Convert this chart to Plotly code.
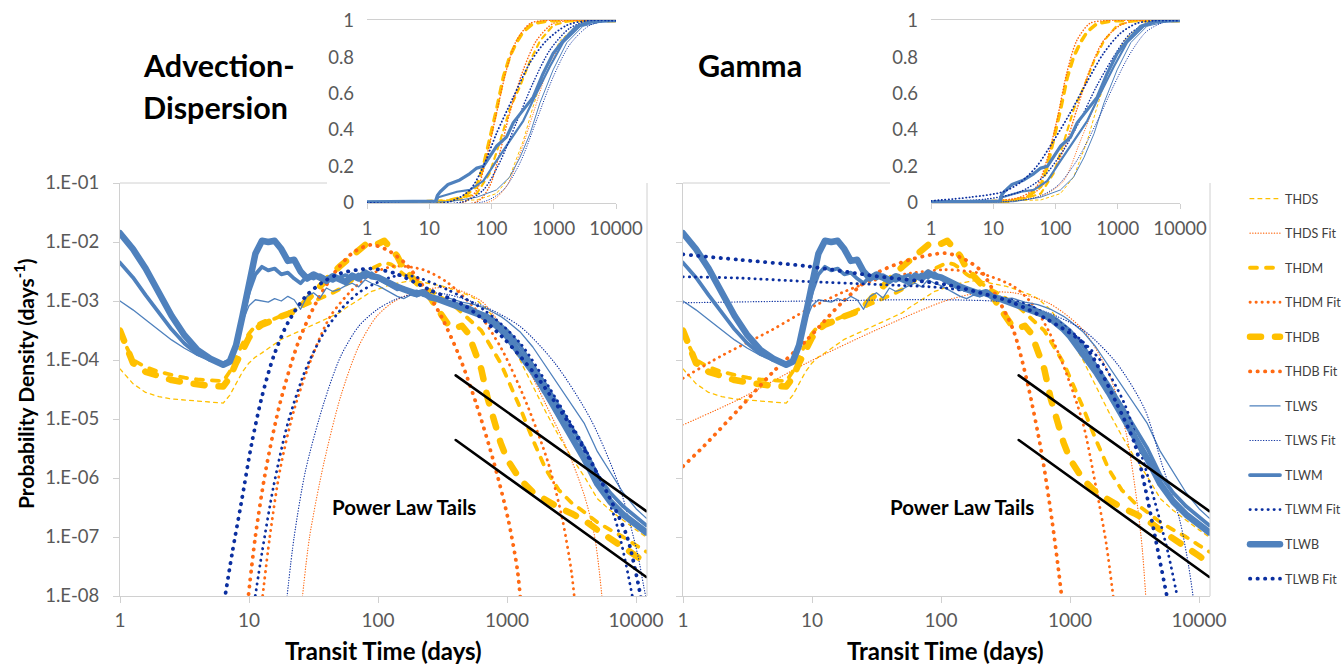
import plotly.graph_objects as go

W, H = 1341, 665

# ---------------- observed transit-time densities (shared by both panels) ----------------
DAYS = [1, 1.26, 1.58, 2.0, 2.51, 3.16, 3.98, 5.01, 6.31, 7.08, 7.94, 8.91, 10, 11.2, 12.6, 14.1,
        15.8, 17.8, 20, 22.4, 25.1, 28.2, 31.6, 35.5, 39.8, 44.7, 50.1, 56.2, 63.1, 70.8, 79.4,
        89.1, 100, 112, 126, 141, 158, 178, 200, 224, 251, 282, 316, 355, 398, 447, 501, 562,
        631, 708, 794, 891, 1000, 1259, 1585, 1995, 2512, 3162, 3981, 5012, 6310, 7943, 10000, 12000]

THDS = [7.08e-5, 3.98e-5, 2.82e-5, 2.40e-5, 2.19e-5, 2.09e-5, 2.0e-5, 1.91e-5, 1.86e-5,
        2.51e-5, 3.98e-5, 6.31e-5, 8.91e-5, 1.12e-4, 1.32e-4, 1.58e-4, 1.91e-4, 2.24e-4, 2.51e-4,
        2.82e-4, 3.16e-4, 3.55e-4, 3.98e-4, 4.47e-4, 5.01e-4, 5.62e-4, 6.31e-4, 7.59e-4, 8.91e-4,
        1.05e-3, 1.26e-3, 1.45e-3, 1.58e-3, 1.74e-3, 1.91e-3, 2.0e-3, 2.09e-3, 2.19e-3, 2.19e-3,
        2.09e-3, 2.0e-3, 1.91e-3, 1.78e-3, 1.66e-3, 1.51e-3, 1.38e-3, 1.26e-3, 1.10e-3, 8.91e-4,
        7.08e-4, 5.01e-4, 3.55e-4, 2.40e-4,
        1.0e-4, 3.55e-5, 1.32e-5, 5.25e-6, 2.24e-6, 1.05e-6, 4.47e-7, 2.82e-7, 1.91e-7, 1.32e-7, 1.0e-7]

THDM = [2.82e-4, 1.0e-4, 7.59e-5, 6.31e-5, 5.62e-5, 5.01e-5, 4.68e-5, 4.47e-5, 4.37e-5,
        6.31e-5, 1.12e-4, 1.91e-4, 2.82e-4, 3.80e-4, 4.37e-4, 4.79e-4, 5.01e-4, 5.62e-4, 6.31e-4,
        6.92e-4, 7.94e-4, 8.91e-4, 1.0e-3, 1.10e-3, 1.20e-3, 1.38e-3, 1.58e-3, 1.91e-3, 2.24e-3,
        2.63e-3, 3.16e-3, 3.55e-3, 3.98e-3, 4.47e-3, 4.17e-3, 3.55e-3, 2.82e-3, 2.40e-3, 2.0e-3,
        1.74e-3, 1.51e-3, 1.32e-3, 1.12e-3, 9.55e-4, 7.94e-4, 6.31e-4, 5.01e-4, 3.98e-4, 3.16e-4,
        2.09e-4, 1.41e-4, 8.91e-5, 5.01e-5,
        1.58e-5, 4.47e-6, 1.41e-6, 6.31e-7, 3.80e-7, 2.63e-7, 1.78e-7, 1.32e-7, 1.0e-7, 7.24e-8, 5.62e-8]

THDB = [3.16e-4, 8.91e-5, 6.31e-5, 5.25e-5, 4.57e-5, 4.17e-5, 3.80e-5, 3.63e-5, 3.55e-5,
        5.01e-5, 8.91e-5, 1.51e-4, 2.40e-4, 3.31e-4, 3.98e-4, 4.37e-4, 5.01e-4, 5.50e-4, 6.03e-4,
        6.61e-4, 7.94e-4, 1.05e-3, 1.41e-3, 1.78e-3, 2.40e-3, 3.02e-3, 3.80e-3, 4.79e-3, 6.03e-3,
        7.59e-3, 8.91e-3, 1.0e-2, 9.33e-3, 1.05e-2, 7.94e-3, 5.75e-3, 3.55e-3, 2.63e-3, 2.09e-3,
        1.58e-3, 1.20e-3, 7.94e-4, 5.25e-4, 3.80e-4, 3.47e-4, 3.80e-4, 2.82e-4, 1.41e-4, 7.08e-5,
        2.24e-5, 8.91e-6, 3.98e-6, 2.09e-6,
        9.55e-7, 5.75e-7, 4.17e-7, 3.16e-7, 2.51e-7, 1.91e-7, 1.32e-7, 9.55e-8, 6.92e-8, 4.79e-8, 3.55e-8]

TLWS = [1.0e-3, 7.08e-4, 4.79e-4, 3.16e-4, 2.19e-4, 1.58e-4, 1.20e-4, 1.0e-4, 8.91e-5,
        1.0e-4, 1.91e-4, 4.47e-4, 8.32e-4, 1.05e-3, 1.0e-3, 9.55e-4, 1.10e-3, 1.0e-3, 1.20e-3,
        1.05e-3, 7.24e-4, 1.20e-3, 1.38e-3, 1.12e-3, 1.66e-3, 1.45e-3, 1.58e-3, 1.82e-3, 2.0e-3,
        1.74e-3, 2.29e-3, 2.0e-3, 1.82e-3, 1.58e-3, 1.38e-3, 1.20e-3, 1.10e-3, 1.26e-3, 1.17e-3,
        1.32e-3, 1.20e-3, 1.15e-3, 1.10e-3, 1.12e-3, 1.02e-3, 9.55e-4, 9.12e-4, 8.71e-4, 7.94e-4,
        7.24e-4, 6.31e-4, 5.50e-4, 4.57e-4,
        3.02e-4, 1.66e-4, 7.94e-5, 3.80e-5, 1.82e-5, 8.32e-6, 2.82e-6, 1.26e-6, 5.62e-7, 3.02e-7, 2.09e-7]

TLWM = [4.47e-3, 2.51e-3, 1.26e-3, 6.31e-4, 3.31e-4, 1.91e-4, 1.26e-4, 1.0e-4, 8.71e-5,
        1.0e-4, 1.91e-4, 5.62e-4, 1.41e-3, 2.82e-3, 3.80e-3, 3.31e-3, 3.55e-3, 2.82e-3, 3.02e-3,
        2.40e-3, 2.0e-3, 2.63e-3, 2.40e-3, 2.75e-3, 2.40e-3, 2.19e-3, 2.51e-3, 2.75e-3, 2.40e-3,
        2.82e-3, 2.51e-3, 2.95e-3, 2.40e-3, 2.09e-3, 1.82e-3, 1.58e-3, 1.66e-3, 1.38e-3, 1.45e-3,
        1.26e-3, 1.20e-3, 1.12e-3, 1.05e-3, 1.0e-3, 9.12e-4, 8.32e-4, 7.94e-4, 6.92e-4, 6.31e-4,
        5.62e-4, 4.79e-4, 3.98e-4, 3.16e-4,
        1.74e-4, 8.32e-5, 3.80e-5, 1.66e-5, 7.24e-6, 3.16e-6, 1.12e-6, 5.62e-7, 3.31e-7, 2.19e-7, 1.58e-7]

TLWB = [1.41e-2, 7.59e-3, 3.55e-3, 1.41e-3, 5.62e-4, 2.63e-4, 1.48e-4, 1.05e-4, 8.32e-5,
        9.33e-5, 1.78e-4, 5.62e-4, 2.24e-3, 6.31e-3, 1.05e-2, 1.0e-2, 1.05e-2, 7.59e-3, 4.79e-3,
        5.01e-3, 3.16e-3, 2.40e-3, 2.82e-3, 2.51e-3, 2.19e-3, 2.63e-3, 2.34e-3, 2.09e-3, 2.69e-3,
        2.40e-3, 3.02e-3, 2.63e-3, 2.51e-3, 2.19e-3, 1.91e-3, 1.74e-3, 1.58e-3, 1.41e-3, 1.32e-3,
        1.41e-3, 1.17e-3, 1.10e-3, 1.0e-3, 9.55e-4, 8.71e-4, 7.94e-4, 7.24e-4, 6.61e-4, 5.75e-4,
        5.01e-4, 4.17e-4, 3.31e-4, 2.51e-4,
        1.32e-4, 6.31e-5, 2.82e-5, 1.20e-5, 5.01e-6, 2.09e-6, 7.94e-7, 3.98e-7, 2.40e-7, 1.58e-7, 1.20e-7]

# ---------------- Advection-Dispersion fits ----------------
THDS_FIT_AD_X = [25.7, 29.5, 38.0, 51.3, 70.8, 97.7, 135, 224, 372, 631, 794, 1000, 1259, 1585, 1995, 2512, 3162, 3981, 4786, 5495]
THDS_FIT_AD_Y = [7.9e-9, 1.02e-7, 1.78e-6, 2.40e-5, 1.70e-4, 5.50e-4, 1.0e-3, 1.55e-3, 1.66e-3, 1.0e-3, 5.62e-4, 2.82e-4, 1.26e-4, 5.01e-5, 1.78e-5, 6.31e-6, 2.0e-6, 5.01e-7, 1.0e-7, 7.9e-9]
THDM_FIT_AD_X = [12.6, 14.5, 17.4, 22.4, 30.9, 42.7, 63.1, 91.2, 135, 224, 347, 575, 912, 1413, 2089, 2692, 3162, 3388]
THDM_FIT_AD_Y = [7.9e-9, 1.02e-7, 1.38e-6, 1.45e-5, 1.15e-4, 5.50e-4, 1.55e-3, 2.95e-3, 3.89e-3, 3.39e-3, 2.04e-3, 7.08e-4, 1.51e-4, 1.86e-5, 1.78e-6, 1.95e-7, 2.51e-8, 6.3e-9]
THDB_FIT_AD_X = [9.77, 11.2, 13.5, 17.4, 24.0, 33.1, 45.7, 63.1, 87.1, 117, 162, 224, 309, 427, 575, 794, 1023, 1202, 1288]
THDB_FIT_AD_Y = [7.9e-9, 1.02e-7, 1.38e-6, 1.86e-5, 1.95e-4, 9.33e-4, 2.95e-3, 6.46e-3, 8.91e-3, 7.41e-3, 4.37e-3, 1.78e-3, 5.50e-4, 1.15e-4, 1.86e-5, 1.78e-6, 1.95e-7, 2.82e-8, 6.3e-9]
TLWS_FIT_AD_X = [19.5, 22.4, 27.5, 38.0, 51.3, 70.8, 97.7, 135, 209, 347, 661, 1259, 2344, 4467, 7413, 10233, 11482, 12589]
TLWS_FIT_AD_Y = [7.9e-9, 1.02e-7, 1.38e-6, 1.86e-5, 1.15e-4, 3.72e-4, 7.08e-4, 1.05e-3, 1.38e-3, 1.29e-3, 8.13e-4, 3.72e-4, 8.91e-5, 9.77e-6, 7.24e-7, 5.37e-8, 1.45e-8, 5.0e-9]
TLWM_FIT_AD_X = [11.0, 12.6, 15.5, 20.0, 27.5, 38.0, 51.3, 70.8, 97.7, 135, 186, 347, 661, 1259, 2344, 4467, 6918, 9550]
TLWM_FIT_AD_Y = [7.9e-9, 5.37e-8, 7.24e-7, 8.51e-6, 6.92e-5, 2.88e-4, 7.08e-4, 1.38e-3, 2.04e-3, 2.63e-3, 2.63e-3, 1.55e-3, 7.08e-4, 1.95e-4, 2.40e-5, 2.04e-6, 1.95e-7, 7.9e-9]
TLWB_FIT_AD_X = [6.31, 7.41, 8.71, 10.5, 12.6, 15.5, 20.0, 27.5, 38.0, 51.3, 70.8, 87.1, 135, 251, 479, 912, 1698, 3236, 6166, 8511, 10965]
TLWB_FIT_AD_Y = [6.3e-9, 5.37e-8, 3.80e-7, 3.89e-6, 2.40e-5, 1.15e-4, 4.27e-4, 1.20e-3, 2.14e-3, 2.95e-3, 3.39e-3, 3.55e-3, 2.95e-3, 1.55e-3, 8.13e-4, 2.51e-4, 5.25e-5, 6.61e-6, 4.90e-7, 1.02e-7, 8.9e-9]

# ---------------- Gamma fits ----------------
THDS_FIT_G_X = [1, 2.69, 9.12, 31.6, 107, 200, 363, 676, 1259, 2042, 2754, 3311, 3631, 3890]
THDS_FIT_G_Y = [7.94e-6, 2.14e-5, 8.91e-5, 3.24e-4, 1.0e-3, 1.38e-3, 1.38e-3, 9.33e-4, 3.24e-4, 5.25e-5, 5.13e-6, 3.80e-7, 6.31e-8, 7.9e-9]
THDM_FIT_G_X = [1, 1.95, 4.90, 9.12, 17.0, 31.6, 57.5, 107, 200, 363, 501, 676, 912, 1259, 1585, 1905, 2188]
THDM_FIT_G_Y = [4.90e-5, 1.15e-4, 3.24e-4, 7.08e-4, 1.38e-3, 2.29e-3, 2.95e-3, 3.39e-3, 2.95e-3, 1.78e-3, 9.33e-4, 3.24e-4, 6.92e-5, 8.51e-6, 7.24e-7, 7.94e-8, 7.9e-9]
THDB_FIT_G_X = [1, 1.45, 2.69, 4.90, 9.12, 17.0, 31.6, 57.5, 107, 145, 200, 269, 363, 468, 603, 724, 813, 871]
THDB_FIT_G_Y = [1.58e-6, 3.47e-6, 1.45e-5, 6.03e-5, 2.19e-4, 9.33e-4, 2.95e-3, 5.01e-3, 6.46e-3, 5.37e-3, 3.39e-3, 1.20e-3, 3.24e-4, 4.07e-5, 2.63e-6, 1.95e-7, 2.82e-8, 7.9e-9]
TLWS_FIT_G_X = [1, 9.12, 107, 363, 676, 1259, 2291, 3802, 5129, 7079, 8318, 9120]
TLWS_FIT_G_Y = [9.33e-4, 1.0e-3, 1.05e-3, 9.33e-4, 6.31e-4, 3.24e-4, 8.91e-5, 1.45e-5, 1.78e-6, 1.95e-7, 3.16e-8, 7.9e-9]
TLWM_FIT_G_X = [1, 2.69, 9.12, 31.6, 107, 269, 501, 912, 1698, 2630, 3548, 4571, 5754, 6918]
TLWM_FIT_G_Y = [2.57e-3, 2.45e-3, 2.14e-3, 1.91e-3, 1.66e-3, 1.20e-3, 8.13e-4, 3.72e-4, 1.02e-4, 1.86e-5, 2.63e-6, 3.80e-7, 5.37e-8, 7.9e-9]
TLWB_FIT_G_X = [1, 2.69, 9.12, 31.6, 107, 200, 363, 676, 1259, 1698, 2291, 3162, 3802, 4571, 5754]
TLWB_FIT_G_Y = [6.17e-3, 5.01e-3, 3.89e-3, 2.63e-3, 1.91e-3, 1.38e-3, 9.33e-4, 4.79e-4, 1.95e-4, 6.92e-5, 1.86e-5, 3.89e-6, 7.24e-7, 1.0e-7, 7.9e-9]

# ---------------- power-law tail guides ----------------
POWER_X = [400, 12000]
POWER_UPPER = [5.5e-5, 2.75e-7]
POWER_LOWER = [4.4e-6, 2.1e-8]

# ---------------- cumulative distributions (insets) ----------------
THDS_CDF_X = [1, 58, 120, 195, 324, 468, 759, 1259, 2344, 4900, 10000]
THDS_CDF_Y = [0, 0.015, 0.05, 0.14, 0.34, 0.53, 0.75, 0.89, 0.975, 1.0, 1.0]
THDM_CDF_X = [1, 27.5, 58, 93, 135, 195, 288, 417, 603, 977, 1820, 10000]
THDM_CDF_Y = [0, 0.015, 0.05, 0.16, 0.33, 0.51, 0.64, 0.78, 0.89, 0.975, 1.0, 1.0]
THDB_CDF_X = [1, 16.6, 35, 58, 74, 93, 120, 155, 195, 251, 324, 468, 871, 10000]
THDB_CDF_Y = [0, 0.005, 0.03, 0.09, 0.20, 0.34, 0.51, 0.69, 0.80, 0.88, 0.94, 0.985, 1.0, 1.0]
TLWS_CDF_X = [1, 21, 58, 120, 195, 288, 417, 603, 977, 1622, 2951, 7079, 10000]
TLWS_CDF_Y = [0.003, 0.005, 0.03, 0.07, 0.14, 0.25, 0.38, 0.55, 0.73, 0.88, 0.97, 1.0, 1.0]
TLWM_CDF_X = [1, 13, 14, 28, 45, 74, 120, 195, 324, 525, 871, 1413, 2630, 4900, 10000]
TLWM_CDF_Y = [0.005, 0.008, 0.03, 0.06, 0.07, 0.12, 0.23, 0.34, 0.45, 0.60, 0.75, 0.88, 0.97, 1.0, 1.0]
TLWB_CDF_X = [1, 12.6, 13.5, 15, 20, 31, 45, 58, 74, 93, 120, 174, 224, 324, 468, 676, 977, 1413, 2344, 3802, 10000]
TLWB_CDF_Y = [0.005, 0.008, 0.04, 0.06, 0.10, 0.125, 0.16, 0.19, 0.20, 0.25, 0.31, 0.36, 0.44, 0.51, 0.58, 0.71, 0.82, 0.89, 0.97, 0.995, 1.0]

THDS_FIT_AD_CDF_X = [1, 93, 174, 288, 468, 759, 1413, 2630, 4900, 10000]
THDS_FIT_AD_CDF_Y = [0, 0.005, 0.09, 0.27, 0.49, 0.71, 0.89, 0.975, 1.0, 1.0]
THDM_FIT_AD_CDF_X = [1, 58, 93, 135, 195, 324, 525, 977, 1820, 10000]
THDM_FIT_AD_CDF_Y = [0, 0.005, 0.09, 0.27, 0.49, 0.73, 0.89, 0.985, 1.0, 1.0]
THDB_FIT_AD_CDF_X = [1, 35, 58, 83, 120, 174, 251, 417, 676, 10000]
THDB_FIT_AD_CDF_Y = [0, 0.0, 0.07, 0.25, 0.49, 0.73, 0.89, 0.985, 1.0, 1.0]
TLWS_FIT_AD_CDF_X = [1, 74, 155, 288, 525, 977, 1820, 3802, 7943, 10000]
TLWS_FIT_AD_CDF_Y = [0, 0.005, 0.07, 0.22, 0.45, 0.69, 0.87, 0.975, 1.0, 1.0]
TLWM_FIT_AD_CDF_X = [1, 35, 74, 135, 251, 468, 871, 1820, 3802, 10000]
TLWM_FIT_AD_CDF_Y = [0, 0.005, 0.07, 0.22, 0.44, 0.66, 0.84, 0.96, 1.0, 1.0]
TLWB_FIT_AD_CDF_X = [1, 21, 45, 74, 120, 224, 417, 759, 1622, 3388, 10000]
TLWB_FIT_AD_CDF_Y = [0, 0.005, 0.07, 0.20, 0.38, 0.58, 0.77, 0.89, 0.975, 1.0, 1.0]

THDS_FIT_G_CDF_X = [1, 14.5, 63, 135, 245, 457, 851, 1585, 2884, 5370, 10000]
THDS_FIT_G_CDF_Y = [0, 0.004, 0.04, 0.12, 0.33, 0.56, 0.78, 0.91, 0.98, 1.0, 1.0]
THDM_FIT_G_CDF_X = [1, 7.8, 39, 81, 135, 219, 355, 589, 1096, 1995, 10000]
THDM_FIT_G_CDF_Y = [0, 0.004, 0.04, 0.14, 0.29, 0.51, 0.73, 0.89, 0.975, 1.0, 1.0]
THDB_FIT_G_CDF_X = [1, 4.3, 27, 50, 72, 105, 151, 219, 355, 589, 10000]
THDB_FIT_G_CDF_Y = [0, 0.004, 0.03, 0.09, 0.23, 0.45, 0.71, 0.89, 0.985, 1.0, 1.0]
TLWS_FIT_G_CDF_X = [1, 14.5, 50, 105, 219, 457, 851, 1585, 2884, 5370, 10000]
TLWS_FIT_G_CDF_Y = [0, 0.005, 0.03, 0.09, 0.23, 0.44, 0.64, 0.82, 0.94, 0.99, 1.0]
TLWM_FIT_G_CDF_X = [1, 7.8, 27, 63, 135, 245, 457, 851, 1585, 3311, 6918, 10000]
TLWM_FIT_G_CDF_Y = [0.004, 0.02, 0.06, 0.14, 0.29, 0.45, 0.64, 0.80, 0.93, 0.99, 1.0, 1.0]
TLWB_FIT_G_CDF_X = [1, 4.3, 14.5, 27, 50, 93, 170, 316, 589, 1096, 1995, 3715, 10000]
TLWB_FIT_G_CDF_Y = [0.01, 0.03, 0.06, 0.11, 0.20, 0.34, 0.49, 0.66, 0.82, 0.93, 0.985, 1.0, 1.0]

# ---------------- tick labels ----------------
X_TICKS = [1, 10, 100, 1000, 10000]
X_TICK_TEXT = ["1", "10", "100", "1000", "10000"]
Y_TICKS = [1e-1, 1e-2, 1e-3, 1e-4, 1e-5, 1e-6, 1e-7, 1e-8]
Y_TICK_TEXT = ["1.E-01", "1.E-02", "1.E-03", "1.E-04", "1.E-05", "1.E-06", "1.E-07", "1.E-08"]
CDF_TICKS = [0, 0.2, 0.4, 0.6, 0.8, 1.0]
CDF_TICK_TEXT = ["0", "0.2", "0.4", "0.6", "0.8", "1"]

NAMES = ["THDS", "THDS Fit", "THDM", "THDM Fit", "THDB", "THDB Fit",
         "TLWS", "TLWS Fit", "TLWM", "TLWM Fit", "TLWB", "TLWB Fit"]

YELLOW = "#FFC000"
ORANGE = "#FF6A13"
BLUE = "#4F81BD"
NAVY = "#0B2FA0"
FONT = "Lato, 'Open Sans', sans-serif"
AXIS_GRAY = "#D0D0D0"
TICK_COLOR = "#595959"

MAIN_STYLE = {
    "THDS": dict(color=YELLOW, width=1.3, dash="3.8px,4.2px"),
    "THDS Fit": dict(color=ORANGE, width=1.2, dash="0.3px,2.4px"),
    "THDM": dict(color=YELLOW, width=3.8, dash="7px,9px"),
    "THDM Fit": dict(color=ORANGE, width=2.8, dash="0.3px,5.7px"),
    "THDB": dict(color=YELLOW, width=6.5, dash="11px,14px"),
    "THDB Fit": dict(color=ORANGE, width=3.8, dash="0.3px,7.2px"),
    "TLWS": dict(color=BLUE, width=1.3, dash="solid"),
    "TLWS Fit": dict(color=NAVY, width=1.2, dash="0.3px,2.4px"),
    "TLWM": dict(color=BLUE, width=3.8, dash="solid"),
    "TLWM Fit": dict(color=NAVY, width=2.8, dash="0.3px,5.7px"),
    "TLWB": dict(color=BLUE, width=6.5, dash="solid"),
    "TLWB Fit": dict(color=NAVY, width=3.8, dash="0.3px,7.2px"),
}
INSET_STYLE = {
    "THDS": dict(color=YELLOW, width=1.0, dash="2.5px,3px"),
    "THDS Fit": dict(color=ORANGE, width=1.0, dash="0.3px,2.2px"),
    "THDM": dict(color=YELLOW, width=2.2, dash="5px,5px"),
    "THDM Fit": dict(color=ORANGE, width=1.5, dash="0.3px,2.7px"),
    "THDB": dict(color=YELLOW, width=3.5, dash="7px,7px"),
    "THDB Fit": dict(color=ORANGE, width=1.5, dash="0.3px,2.7px"),
    "TLWS": dict(color=BLUE, width=1.0, dash="solid"),
    "TLWS Fit": dict(color=NAVY, width=1.0, dash="0.3px,2.2px"),
    "TLWM": dict(color=BLUE, width=2.2, dash="solid"),
    "TLWM Fit": dict(color=NAVY, width=1.5, dash="0.3px,2.7px"),
    "TLWB": dict(color=BLUE, width=3.2, dash="solid"),
    "TLWB Fit": dict(color=NAVY, width=1.8, dash="0.3px,3.2px"),
}

MAIN_AD = {
    "THDS": (DAYS, THDS), "THDS Fit": (THDS_FIT_AD_X, THDS_FIT_AD_Y),
    "THDM": (DAYS, THDM), "THDM Fit": (THDM_FIT_AD_X, THDM_FIT_AD_Y),
    "THDB": (DAYS, THDB), "THDB Fit": (THDB_FIT_AD_X, THDB_FIT_AD_Y),
    "TLWS": (DAYS, TLWS), "TLWS Fit": (TLWS_FIT_AD_X, TLWS_FIT_AD_Y),
    "TLWM": (DAYS, TLWM), "TLWM Fit": (TLWM_FIT_AD_X, TLWM_FIT_AD_Y),
    "TLWB": (DAYS, TLWB), "TLWB Fit": (TLWB_FIT_AD_X, TLWB_FIT_AD_Y),
}
MAIN_G = {
    "THDS": (DAYS, THDS), "THDS Fit": (THDS_FIT_G_X, THDS_FIT_G_Y),
    "THDM": (DAYS, THDM), "THDM Fit": (THDM_FIT_G_X, THDM_FIT_G_Y),
    "THDB": (DAYS, THDB), "THDB Fit": (THDB_FIT_G_X, THDB_FIT_G_Y),
    "TLWS": (DAYS, TLWS), "TLWS Fit": (TLWS_FIT_G_X, TLWS_FIT_G_Y),
    "TLWM": (DAYS, TLWM), "TLWM Fit": (TLWM_FIT_G_X, TLWM_FIT_G_Y),
    "TLWB": (DAYS, TLWB), "TLWB Fit": (TLWB_FIT_G_X, TLWB_FIT_G_Y),
}
INSET_AD = {
    "THDS": (THDS_CDF_X, THDS_CDF_Y), "THDS Fit": (THDS_FIT_AD_CDF_X, THDS_FIT_AD_CDF_Y),
    "THDM": (THDM_CDF_X, THDM_CDF_Y), "THDM Fit": (THDM_FIT_AD_CDF_X, THDM_FIT_AD_CDF_Y),
    "THDB": (THDB_CDF_X, THDB_CDF_Y), "THDB Fit": (THDB_FIT_AD_CDF_X, THDB_FIT_AD_CDF_Y),
    "TLWS": (TLWS_CDF_X, TLWS_CDF_Y), "TLWS Fit": (TLWS_FIT_AD_CDF_X, TLWS_FIT_AD_CDF_Y),
    "TLWM": (TLWM_CDF_X, TLWM_CDF_Y), "TLWM Fit": (TLWM_FIT_AD_CDF_X, TLWM_FIT_AD_CDF_Y),
    "TLWB": (TLWB_CDF_X, TLWB_CDF_Y), "TLWB Fit": (TLWB_FIT_AD_CDF_X, TLWB_FIT_AD_CDF_Y),
}
INSET_G = {
    "THDS": (THDS_CDF_X, THDS_CDF_Y), "THDS Fit": (THDS_FIT_G_CDF_X, THDS_FIT_G_CDF_Y),
    "THDM": (THDM_CDF_X, THDM_CDF_Y), "THDM Fit": (THDM_FIT_G_CDF_X, THDM_FIT_G_CDF_Y),
    "THDB": (THDB_CDF_X, THDB_CDF_Y), "THDB Fit": (THDB_FIT_G_CDF_X, THDB_FIT_G_CDF_Y),
    "TLWS": (TLWS_CDF_X, TLWS_CDF_Y), "TLWS Fit": (TLWS_FIT_G_CDF_X, TLWS_FIT_G_CDF_Y),
    "TLWM": (TLWM_CDF_X, TLWM_CDF_Y), "TLWM Fit": (TLWM_FIT_G_CDF_X, TLWM_FIT_G_CDF_Y),
    "TLWB": (TLWB_CDF_X, TLWB_CDF_Y), "TLWB Fit": (TLWB_FIT_G_CDF_X, TLWB_FIT_G_CDF_Y),
}

fig = go.Figure()


def add_set(series, styles, xa, ya, legend):
    for name in NAMES:
        x, y = series[name]
        st = styles[name]
        shape = "spline" if name.endswith("Fit") else "linear"
        line = dict(color=st["color"], width=st["width"], dash=st["dash"], shape=shape)
        if shape == "spline":
            line["smoothing"] = 0.8
        fig.add_trace(go.Scatter(
            x=x, y=y, mode="lines", name=name, legendgroup=name, showlegend=legend,
            xaxis=xa, yaxis=ya, hoverinfo="skip", line=line,
        ))


add_set(MAIN_AD, MAIN_STYLE, "x", "y", True)
add_set(MAIN_G, MAIN_STYLE, "x2", "y2", False)
add_set(INSET_AD, INSET_STYLE, "x3", "y3", False)
add_set(INSET_G, INSET_STYLE, "x4", "y4", False)

for xa, ya in (("x", "y"), ("x2", "y2")):
    for yy in (POWER_UPPER, POWER_LOWER):
        fig.add_trace(go.Scatter(x=POWER_X, y=yy, mode="lines", showlegend=False,
                                 xaxis=xa, yaxis=ya, hoverinfo="skip",
                                 line=dict(color="black", width=2.6)))


def px_x(p):
    return p / W


def px_y(p):
    return 1 - p / H


MAIN_Y_DOM = [px_y(596), px_y(183)]
INSET_Y_DOM = [px_y(203.4), px_y(20.0)]

main_x_common = dict(type="log", range=[0, 4.085], tickmode="array", tickvals=X_TICKS,
                     ticktext=X_TICK_TEXT, showline=True, linecolor=AXIS_GRAY, linewidth=1,
                     ticks="outside", ticklen=6, tickcolor=AXIS_GRAY, showgrid=False, zeroline=False,
                     automargin=False, tickfont=dict(family=FONT, size=19, color=TICK_COLOR),
                     ticklabelstandoff=1)
main_y_common = dict(type="log", range=[-8, -1], tickmode="array", tickvals=Y_TICKS,
                     ticktext=Y_TICK_TEXT, showline=True, linecolor=AXIS_GRAY, linewidth=1,
                     ticks="outside", ticklen=6, tickcolor=AXIS_GRAY, showgrid=False, zeroline=False,
                     automargin=False, tickfont=dict(family=FONT, size=18.5, color=TICK_COLOR),
                     ticklabelstandoff=10)
inset_x_common = dict(type="log", range=[0, 4], tickmode="array", tickvals=X_TICKS,
                      ticktext=X_TICK_TEXT, showline=True, mirror=True, linecolor=AXIS_GRAY,
                      linewidth=1, ticks="outside", ticklen=5, tickcolor=AXIS_GRAY, showgrid=False,
                      zeroline=False, automargin=False,
                      tickfont=dict(family=FONT, size=18.5, color=TICK_COLOR), ticklabelstandoff=3)
inset_y_common = dict(range=[-0.004, 1.004], tickmode="array", tickvals=CDF_TICKS,
                      ticktext=CDF_TICK_TEXT, showline=False, showgrid=False, zeroline=False,
                      ticks="", automargin=False,
                      tickfont=dict(family=FONT, size=18.5, color=TICK_COLOR), ticklabelstandoff=12)

fig.update_layout(
    template="none",
    width=W, height=H, margin=dict(l=0, r=0, t=0, b=0, pad=0, autoexpand=False),
    paper_bgcolor="white", plot_bgcolor="rgba(0,0,0,0)",
    font=dict(family=FONT, color="black"),
    xaxis=dict(domain=[px_x(120), px_x(647)], anchor="y", **main_x_common),
    yaxis=dict(domain=MAIN_Y_DOM, anchor="x", **main_y_common),
    xaxis2=dict(domain=[px_x(683), px_x(1210)], anchor="y2", **main_x_common),
    yaxis2=dict(domain=MAIN_Y_DOM, anchor="x2", showticklabels=False, **main_y_common),
    xaxis3=dict(domain=[px_x(367), px_x(616)], anchor="y3", **inset_x_common),
    yaxis3=dict(domain=INSET_Y_DOM, anchor="x3", **inset_y_common),
    xaxis4=dict(domain=[px_x(931), px_x(1180)], anchor="y4", **inset_x_common),
    yaxis4=dict(domain=INSET_Y_DOM, anchor="x4", **inset_y_common),
    showlegend=True,
    legend=dict(x=px_x(1245), y=px_y(184), xref="container", yref="container",
                xanchor="left", yanchor="top", maxheight=650,
                font=dict(family=FONT, size=12.5, color="#404040"),
                tracegroupgap=15.3, itemwidth=30, bgcolor="rgba(0,0,0,0)", borderwidth=0),
)

# plot-area border segments (top border is hidden behind the insets)
fig.add_shape(type="line", xref="paper", yref="paper", x0=px_x(120), x1=px_x(327),
              y0=px_y(183), y1=px_y(183), line=dict(color=AXIS_GRAY, width=1))
fig.add_shape(type="line", xref="paper", yref="paper", x0=px_x(647), x1=px_x(647),
              y0=MAIN_Y_DOM[0], y1=MAIN_Y_DOM[1], line=dict(color=AXIS_GRAY, width=1))
fig.add_shape(type="line", xref="paper", yref="paper", x0=px_x(683), x1=px_x(890),
              y0=px_y(183), y1=px_y(183), line=dict(color=AXIS_GRAY, width=1))
fig.add_shape(type="line", xref="paper", yref="paper", x0=px_x(1210), x1=px_x(1210),
              y0=MAIN_Y_DOM[0], y1=MAIN_Y_DOM[1], line=dict(color=AXIS_GRAY, width=1))

title_font = dict(family=FONT, size=30.5, color="black")
annos = [
    dict(text="<b>Advection-</b>", x=px_x(141), y=px_y(65)),
    dict(text="<b>Dispersion</b>", x=px_x(141), y=px_y(107)),
    dict(text="<b>Gamma</b>", x=px_x(696), y=px_y(65)),
]
for a in annos:
    fig.add_annotation(xref="paper", yref="paper", xanchor="left", yanchor="middle",
                       showarrow=False, font=title_font, **a)
for cx in (404, 962):
    fig.add_annotation(xref="paper", yref="paper", x=px_x(cx), y=px_y(507), xanchor="center",
                       yanchor="middle", showarrow=False, text="<b>Power Law Tails</b>",
                       font=dict(family=FONT, size=20.5, color="black"))
for cx in (383, 945):
    fig.add_annotation(xref="paper", yref="paper", x=px_x(cx), y=px_y(650), xanchor="center",
                       yanchor="middle", showarrow=False, text="<b>Transit Time (days)</b>",
                       font=dict(family=FONT, size=24, color="black"))
fig.add_annotation(xref="paper", yref="paper", x=px_x(24), y=px_y(384), xanchor="center",
                   yanchor="middle", showarrow=False, textangle=-90,
                   text="<b>Probability Density (days<sup>-1</sup>)</b>",
                   font=dict(family=FONT, size=21, color="black"))

js = ("document.querySelectorAll('path.js-line').forEach(function(p){"
      "p.style.strokeLinecap='round';p.style.strokeLinejoin='round';});")
fig.write_html("out.html", post_script=js)
